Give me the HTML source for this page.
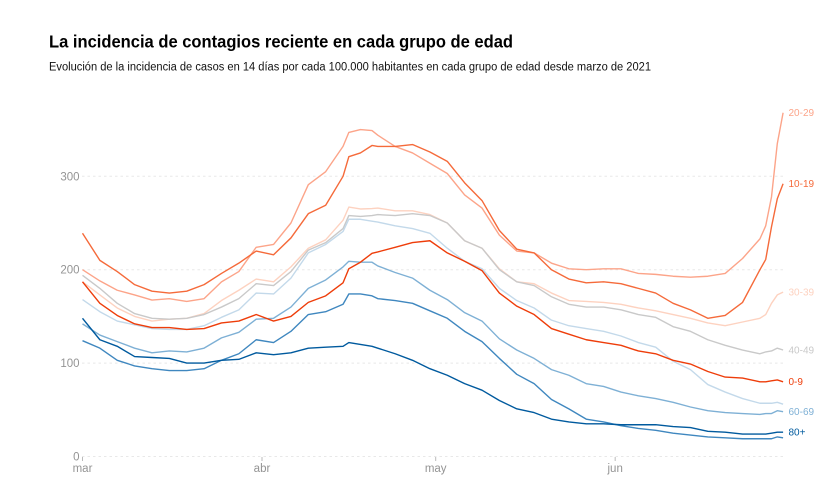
<!DOCTYPE html>
<html lang="es">
<head>
<meta charset="utf-8">
<title>La incidencia de contagios reciente en cada grupo de edad</title>
<style>
html,body{margin:0;padding:0;background:#fff;width:839px;height:503px;overflow:hidden}
svg{display:block;font-family:"Liberation Sans",sans-serif}
</style>
</head>
<body>
<svg id="chart" width="839" height="503" viewBox="0 0 839 503" xmlns="http://www.w3.org/2000/svg">
  <text x="49" y="47.5" font-size="17.5" font-weight="700" fill="#000" textLength="464" lengthAdjust="spacingAndGlyphs">La incidencia de contagios reciente en cada grupo de edad</text>
  <text x="49" y="70.5" font-size="11.5" fill="#111" textLength="602" lengthAdjust="spacingAndGlyphs">Evolución de la incidencia de casos en 14 días por cada 100.000 habitantes en cada grupo de edad desde marzo de 2021</text>
  <g id="grid"></g>
  <g id="axes"></g>
  <g id="lines"></g>
  <g id="labels"></g>
</svg>
<script>
const days = [0,3,6,9,12,15,18,21,24,27,30,33,36,39,42,45,46,48,50,51,54,57,60,63,66,69,72,75,78,81,84,87,90,93,96,99,102,105,108,111,114,117,118,119,120,121];
const yTicks = [0,100,200,300];
const monthNames = ['mar','abr','may','jun'];
const monthDays = [0,31,61,92];

const age2029 = [200,188,178,173,167.5,169,166,169,187,198,224,227,250,291,305,332,347,350,349,344,332,325,314,303,280,266,237,220,218,207,201,200,201,201,196,195,193,192,193,196,212,233,247,278,335,368];
const age1019 = [239,210,198,184,177,175,177,184,196,207,220,216,234,260,269,300,321,325,333,332,332,334,326,316,293,274,242,222,218,200,190,186,187,185,180,175,164,157,148,151,165,200,211,246,276,292];
const age3039 = [187,173,159,150,145,147,148,153,167,178,190,187,203,223,232,253,267,265,265.5,266,263,263,259,250,231,223,201,187,185,175,167,166,165,163,159,156,152,148,143,140,144,148,152,164,173,176];
const age4049 = [194,180,164,153,148,147,148,152,160,169,185,183,198,221,229,244,258,257,258,259,258,260,258,250,231,223,200,187,183,171,163,160,160,157,152,149,139,134,125,119,114,110,112,113,116,114];
const age5059 = [168,155,145,141,137,136,136,140,149,157,175,174,191,218,227,241,254,254,252,251,247,244,239,223,209,201,180,167,159,146,140,137,134,129,122,117,102,93,77,69,62,57,57,57,58,56];
const age6069 = [142,130,123,116,111,113,112,116,127,133,147,148,160,180,189,203,209,208,208,204,197,191,178,168,154,145,126,114,105,93,87,78,75,69,65,62,58,53,49,47,46,45,46,46,49,48];
const age7079 = [124,116,103,97,94,92,92,94,103,110,125,122,134,152,155,163,174,174,172,169,167,164,156,148,134,123,105,88,78,61,51,40,37,33,30,28,25,23,21,20,19,19,19,19,21,20];
const age80 = [148,125,118,107,106,105,100,100,103,104,111,109,111,116,117,118,122,120,118,116,110,103,94,87,78,71,60,51,47,40,37,35,35,34,34,34,32,31,27,26,24,24,24,25,26,26];
const age09 = [187,164,151,142,138,138,136,137,143,145,152,145,150,165,172,186,201,208,217.5,219,224,229,231,218,209,199,175,161,152,137,131,125,122,119,113,110,103,99,91,85,84,80,80,81,82,80];

const seriesList = [
  {key:'age-20-29', label:'20-29', values:age2029, color:'#fca489'},
  {key:'age-30-39', label:'30-39', values:age3039, color:'#fdd2c0'},
  {key:'age-40-49', label:'40-49', values:age4049, color:'#c9c9c9'},
  {key:'age-50-59', label:'',      values:age5059, color:'#c3d9ea'},
  {key:'age-60-69', label:'60-69', values:age6069, color:'#7eb0d5'},
  {key:'age-70-79', label:'',      values:age7079, color:'#3f87bf'},
  {key:'age-80-plus', label:'80+', values:age80,   color:'#005a9e'},
  {key:'age-10-19', label:'10-19', values:age1019, color:'#f56a3a'},
  {key:'age-0-9',   label:'0-9',   values:age09,   color:'#ee3d0a'}
];

const NS = 'http://www.w3.org/2000/svg';
const xScale = d => 82.5 + d * 5.79;
const yScale = v => 456.5 - v * 0.934;

const gridG = document.getElementById('grid');
const axesG = document.getElementById('axes');
const linesG = document.getElementById('lines');
const labelsG = document.getElementById('labels');

yTicks.forEach(t => {
  const ln = document.createElementNS(NS, 'line');
  
  
  ln.setAttribute('x1', 82);
  ln.setAttribute('x2', 783);
  ln.setAttribute('y1', yScale(t));
  ln.setAttribute('y2', yScale(t));
  ln.setAttribute('stroke', '#e8e8e8');
  ln.setAttribute('stroke-width', '1');
  ln.setAttribute('stroke-dasharray', '2.5 3');
  gridG.appendChild(ln);

  const tx = document.createElementNS(NS, 'text');
  
  
  tx.setAttribute('x', 79.5);
  tx.setAttribute('y', yScale(t) + 4);
  tx.setAttribute('text-anchor', 'end');
  tx.setAttribute('font-size', '11.5');
  tx.setAttribute('fill', '#949494');
  tx.textContent = t;
  axesG.appendChild(tx);
});

monthNames.forEach((m, i) => {
  const x = xScale(monthDays[i]);
  const tk = document.createElementNS(NS, 'line');
  
  
  tk.setAttribute('x1', x);
  tk.setAttribute('x2', x);
  tk.setAttribute('y1', 457);
  tk.setAttribute('y2', 461);
  tk.setAttribute('stroke', '#bbb');
  tk.setAttribute('stroke-width', '1');
  axesG.appendChild(tk);

  const tx = document.createElementNS(NS, 'text');
  
  
  tx.setAttribute('x', x);
  tx.setAttribute('y', 472);
  tx.setAttribute('text-anchor', 'middle');
  tx.setAttribute('font-size', '11.5');
  tx.setAttribute('fill', '#949494');
  tx.textContent = m;
  axesG.appendChild(tx);
});

seriesList.forEach(s => {
  const p = document.createElementNS(NS, 'path');
  
  
  p.setAttribute('d', s.values.map((v, i) => (i ? 'L' : 'M') + xScale(days[i]).toFixed(2) + ' ' + yScale(v).toFixed(2)).join(''));
  p.setAttribute('fill', 'none');
  p.setAttribute('stroke', s.color);
  p.setAttribute('stroke-width', '1.4');
  p.setAttribute('stroke-linejoin', 'round');
  linesG.appendChild(p);

  if (s.label) {
    const tx = document.createElementNS(NS, 'text');
    
    
    tx.setAttribute('x', 788.5);
    tx.setAttribute('y', yScale(s.values[s.values.length - 1]) + 3.4);
    tx.setAttribute('font-size', '10');
    tx.setAttribute('fill', s.color);
    tx.textContent = s.label;
    labelsG.appendChild(tx);
  }
});
</script>
</body>
</html>
